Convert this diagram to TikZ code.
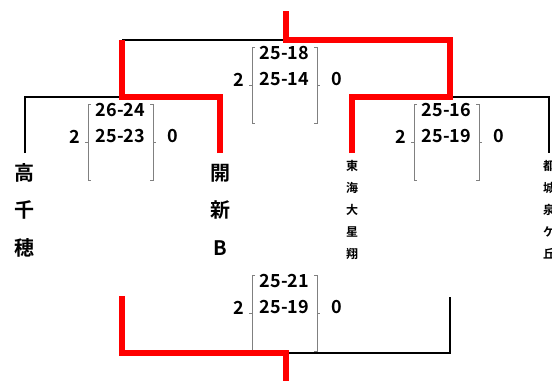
\documentclass[tikz,border=0pt]{standalone}
\usepackage{fontspec}
\setmainfont{Noto Sans CJK JP}[UprightFont={* Bold}]
\tikzset{
  winner/.style={draw=red, line width=6pt},
  loser/.style={draw=black, line width=2.7pt},
  brace/.style={draw=gray, line width=0.9pt},
  score/.style={font=\fontsize{18}{20}\selectfont, inner sep=0pt},
  bigname/.style={font=\fontsize{20}{37.5}\selectfont, align=center, inner sep=0pt, anchor=base},
  smallname/.style={font=\fontsize{12}{22}\selectfont, align=center, inner sep=0pt, anchor=base}
}
\begin{document}
\begin{tikzpicture}[x=1pt,y=-1pt]
    \useasboundingbox (0,0) rectangle (552,381);
    \node[bigname] (takachiho) at (25,255) {高\\千\\穂};
    \node[bigname] (kaishin) at (220,255) {開\\新\\B};
    \node[smallname] (tokai) at (352,258) {東\\海\\大\\星\\翔};
    \node[smallname] (miyako) at (549,258) {都\\城\\泉\\ケ\\丘};
    \coordinate (takachiho-in) at (25,153);
    \coordinate (kaishin-in) at (220,153);
    \coordinate (tokai-in) at (352,153);
    \coordinate (miyako-in) at (549,153);
    \coordinate (sf1) at (122,97);
    \coordinate (sf2) at (450,97);
    \coordinate (top) at (286,40);
    \coordinate (top-end) at (286,11);
    \coordinate (b1) at (122,296);
    \coordinate (b2) at (450,297);
    \coordinate (bot) at (286,353);
    \coordinate (bot-end) at (286,381);
    \foreach \n/\L/\T/\sa/\sb in {a/88/104/26-24/25-23, b/252/47/25-18/25-14, c/414/104/25-16/25-19, d/252/275/25-21/25-19} {
      \draw[brace] (\L+3,\T) -- (\L,\T) -- (\L,\T+76) -- (\L+3,\T+76);
      \draw[brace] (\L,\T+38) -- (\L-3,\T+38);
      \draw[brace] (\L+62,\T) -- (\L+65,\T) -- (\L+65,\T+76) -- (\L+62,\T+76);
      \draw[brace] (\L+65,\T+38) -- (\L+68,\T+38);
      \node[score] (\n-set1) at (\L+32.5,\T+6) {\sa};
      \node[score] (\n-set2) at (\L+32.5,\T+32.5) {\sb};
      \node[score] (\n-left) at (\L-13.5,\T+32.5) {2};
      \node[score] (\n-right) at (\L+85,\T+32.5) {0};
    }
    \draw[loser] (takachiho-in) |- (sf1);
    \draw[loser] (sf1 |- top) -- (top);
    \draw[loser] (sf2) -| (miyako-in);
    \draw[loser] (bot) -| (b2);
    \draw[winner] (kaishin-in) |- (sf1) -- (sf1 |- top);
    \draw[winner] (tokai-in) |- (sf2) -- (sf2 |- top) -- (top) -- (top-end);
    \draw[winner] (b1) |- (bot) -- (bot-end);
\end{tikzpicture}
\end{document}
